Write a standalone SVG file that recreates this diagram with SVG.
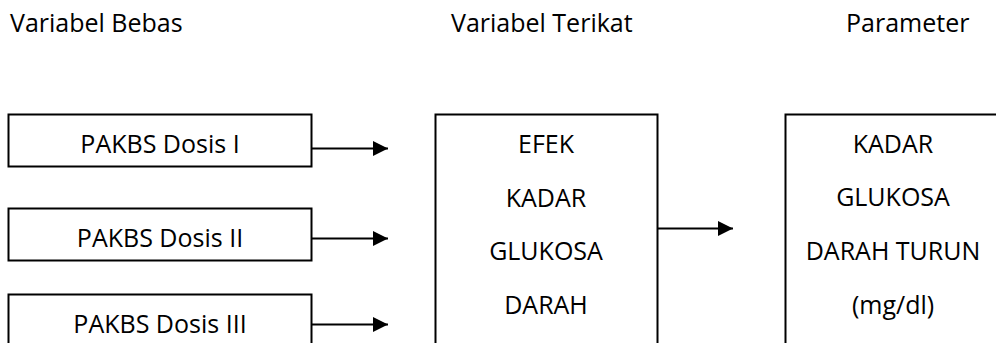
<svg xmlns="http://www.w3.org/2000/svg" width="996" height="343" viewBox="0 0 996 343">
<style>
text { font-family: "Open Sans", "Liberation Sans", sans-serif; font-size: 25px; fill: #000; }
.c { text-anchor: middle; }
.box { fill: #fff; stroke: #000; stroke-width: 2; }
.ln { fill: none; stroke: #000; stroke-width: 2; }
</style>
<defs>
<marker id="ah" markerUnits="userSpaceOnUse" markerWidth="16" markerHeight="16" refX="15" refY="7.5" orient="auto">
<path d="M0,0 L15,7.5 L0,15 Z" fill="#000"/>
</marker>
</defs>
<rect width="996" height="343" fill="#fff"/>
<g id="headers">
<text x="10" y="32">Variabel Bebas</text>
<text x="451" y="32">Variabel Terikat</text>
<text x="846" y="32">Parameter</text>
</g>
<g id="dosis1">
<rect class="box" x="8.5" y="114.5" width="303" height="52"/>
<text class="c" x="160" y="153">PAKBS Dosis I</text>
</g>
<g id="dosis2">
<rect class="box" x="8.5" y="208.5" width="303" height="52"/>
<text class="c" x="160" y="247">PAKBS Dosis II</text>
</g>
<g id="dosis3">
<rect class="box" x="8.5" y="294.5" width="303" height="60"/>
<text class="c" x="160" y="333">PAKBS Dosis III</text>
</g>
<g id="efek">
<path class="ln" d="M435.5,350 V114.5 H657.5 V350"/>
<text class="c" x="546" y="153">EFEK</text>
<text class="c" x="546" y="207">KADAR</text>
<text class="c" x="546" y="260">GLUKOSA</text>
<text class="c" x="546" y="314">DARAH</text>
</g>
<g id="parameter">
<path class="ln" d="M785.5,350 V114.5 H1000"/>
<text class="c" x="893" y="153">KADAR</text>
<text class="c" x="893" y="206">GLUKOSA</text>
<text class="c" x="893" y="260">DARAH TURUN</text>
<text class="c" x="893" y="314">(mg/dl)</text>
</g>
<g id="connectors">
<line class="ln" x1="312" y1="148.5" x2="388" y2="148.5" marker-end="url(#ah)"/>
<line class="ln" x1="312" y1="238.5" x2="388" y2="238.5" marker-end="url(#ah)"/>
<line class="ln" x1="312" y1="324.5" x2="388" y2="324.5" marker-end="url(#ah)"/>
<line class="ln" x1="658" y1="228.5" x2="733" y2="228.5" marker-end="url(#ah)"/>
</g>
</svg>
